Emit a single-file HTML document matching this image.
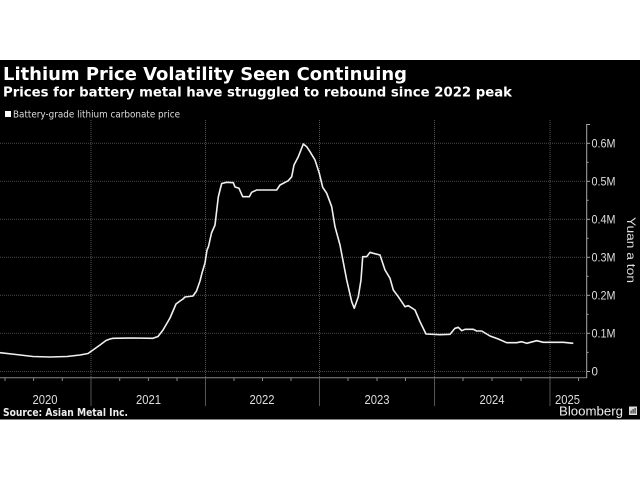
<!DOCTYPE html>
<html><head><meta charset="utf-8"><style>
html,body{margin:0;padding:0;background:#fff;}
svg{display:block;}
</style></head><body>
<svg width="640" height="480" viewBox="0 0 640 480" xmlns="http://www.w3.org/2000/svg">
<rect x="0" y="0" width="640" height="480" fill="#fff"/>
<rect x="0" y="60" width="640" height="359.5" fill="#000"/>
<text x="3" y="80" font-family="DejaVu Sans, sans-serif" font-weight="bold" font-size="17.5" fill="#fff" textLength="404" lengthAdjust="spacingAndGlyphs">Lithium Price Volatility Seen Continuing</text>
<text x="3" y="96.5" font-family="DejaVu Sans, sans-serif" font-weight="bold" font-size="13.5" fill="#fff" textLength="509" lengthAdjust="spacingAndGlyphs">Prices for battery metal have struggled to rebound since 2022 peak</text>
<rect x="5" y="111" width="6" height="6" fill="#fff"/>
<text x="13" y="117.5" font-family="DejaVu Sans, sans-serif" font-size="10" fill="#ddd" textLength="167" lengthAdjust="spacingAndGlyphs">Battery-grade lithium carbonate price</text>
<g stroke="#4a4a4a" stroke-width="1" stroke-dasharray="1,1">
<line x1="0" y1="143.3" x2="586" y2="143.3"/>
<line x1="0" y1="181.3" x2="586" y2="181.3"/>
<line x1="0" y1="219.3" x2="586" y2="219.3"/>
<line x1="0" y1="257.3" x2="586" y2="257.3"/>
<line x1="0" y1="295.3" x2="586" y2="295.3"/>
<line x1="0" y1="333.3" x2="586" y2="333.3"/>
<line x1="0" y1="371.5" x2="586" y2="371.5"/>
</g>
<g stroke="#555" stroke-width="1">
<line x1="91" y1="120" x2="91" y2="406" stroke-dasharray="1,1"/>
<line x1="205.5" y1="120" x2="205.5" y2="406" stroke-dasharray="1,1"/>
<line x1="319.5" y1="120" x2="319.5" y2="406" stroke-dasharray="1,1"/>
<line x1="434.5" y1="120" x2="434.5" y2="406" stroke-dasharray="1,1"/>
<line x1="550" y1="120" x2="550" y2="406" stroke-dasharray="1,1"/>
<line x1="91" y1="378" x2="91" y2="406"/>
<line x1="205.5" y1="378" x2="205.5" y2="406"/>
<line x1="319.5" y1="378" x2="319.5" y2="406"/>
<line x1="434.5" y1="378" x2="434.5" y2="406"/>
<line x1="550" y1="378" x2="550" y2="406"/>
</g>
<line x1="0" y1="377.7" x2="587" y2="377.7" stroke="#888" stroke-width="1"/>
<g stroke="#888" stroke-width="1">
<line x1="5" y1="378" x2="5" y2="381"/>
<line x1="33.6" y1="378" x2="33.6" y2="381"/>
<line x1="62.3" y1="378" x2="62.3" y2="381"/>
<line x1="119.7" y1="378" x2="119.7" y2="381"/>
<line x1="148.4" y1="378" x2="148.4" y2="381"/>
<line x1="177" y1="378" x2="177" y2="381"/>
<line x1="234" y1="378" x2="234" y2="381"/>
<line x1="262.5" y1="378" x2="262.5" y2="381"/>
<line x1="291" y1="378" x2="291" y2="381"/>
<line x1="348" y1="378" x2="348" y2="381"/>
<line x1="377" y1="378" x2="377" y2="381"/>
<line x1="405.5" y1="378" x2="405.5" y2="381"/>
<line x1="463" y1="378" x2="463" y2="381"/>
<line x1="492" y1="378" x2="492" y2="381"/>
<line x1="521" y1="378" x2="521" y2="381"/>
<line x1="578.5" y1="378" x2="578.5" y2="381"/>
</g>
<line x1="586.7" y1="124" x2="586.7" y2="378" stroke="#aaa" stroke-width="1"/>
<g stroke="#aaa" stroke-width="1">
<line x1="586.7" y1="124.5" x2="590" y2="124.5"/>
<line x1="586.7" y1="143.3" x2="590" y2="143.3"/>
<line x1="586.7" y1="181.3" x2="590" y2="181.3"/>
<line x1="586.7" y1="219.3" x2="590" y2="219.3"/>
<line x1="586.7" y1="257.3" x2="590" y2="257.3"/>
<line x1="586.7" y1="295.3" x2="590" y2="295.3"/>
<line x1="586.7" y1="333.3" x2="590" y2="333.3"/>
<line x1="586.7" y1="371.5" x2="590" y2="371.5"/>
<line x1="586.7" y1="162.3" x2="588.5" y2="162.3"/>
<line x1="586.7" y1="200.3" x2="588.5" y2="200.3"/>
<line x1="586.7" y1="238.3" x2="588.5" y2="238.3"/>
<line x1="586.7" y1="276.3" x2="588.5" y2="276.3"/>
<line x1="586.7" y1="314.3" x2="588.5" y2="314.3"/>
<line x1="586.7" y1="352.4" x2="588.5" y2="352.4"/>
</g>
<g font-family="Liberation Sans, sans-serif" font-size="11.5" fill="#ddd">
<text x="591.5" y="147.5" textLength="24" lengthAdjust="spacingAndGlyphs">0.6M</text>
<text x="591.5" y="185.5" textLength="24" lengthAdjust="spacingAndGlyphs">0.5M</text>
<text x="591.5" y="223.5" textLength="24" lengthAdjust="spacingAndGlyphs">0.4M</text>
<text x="591.5" y="261.5" textLength="24" lengthAdjust="spacingAndGlyphs">0.3M</text>
<text x="591.5" y="299.5" textLength="24" lengthAdjust="spacingAndGlyphs">0.2M</text>
<text x="591.5" y="337.5" textLength="24" lengthAdjust="spacingAndGlyphs">0.1M</text>
<text x="591.5" y="375.5">0</text>
</g>
<text transform="translate(627,250) rotate(90)" text-anchor="middle" font-family="Liberation Sans, sans-serif" font-size="12" fill="#ddd" textLength="66" lengthAdjust="spacingAndGlyphs">Yuan a ton</text>
<g font-family="Liberation Sans, sans-serif" font-size="13" fill="#ddd" text-anchor="middle">
<text x="45" y="404" textLength="25" lengthAdjust="spacingAndGlyphs">2020</text>
<text x="148.5" y="404" textLength="25" lengthAdjust="spacingAndGlyphs">2021</text>
<text x="262" y="404" textLength="25" lengthAdjust="spacingAndGlyphs">2022</text>
<text x="377" y="404" textLength="25" lengthAdjust="spacingAndGlyphs">2023</text>
<text x="492" y="404" textLength="25" lengthAdjust="spacingAndGlyphs">2024</text>
<text x="567.5" y="404" textLength="25" lengthAdjust="spacingAndGlyphs">2025</text>
</g>
<polyline fill="none" stroke="#f0f0f0" stroke-width="1.6" stroke-linejoin="round" points="0,352.7 16,354.5 33,356.5 50,357 67,356.5 80,355 88,353.5 93,350 100,345 106,340.5 110,339 113,338.3 133,338 153,338.3 158,336.5 163,330 170,318 176,304 180,301 183,299 185,297 193,296 196.5,291 200,281 202,273 205,263 207,250 208.5,246.5 211.5,233 215,225 218.3,197 220,190 221.7,183.5 226.7,182.3 233.3,182.7 235,187 239,188.3 242.7,196.7 249.3,196.7 251.7,192.3 256.7,190 276.7,190 280,185 288.3,180.7 291.7,176.7 294,165 298.3,156.7 303.3,144 306.7,146.7 310,151.7 315,160 319.3,173.3 322.7,187.3 326.7,193.3 331.7,206.7 335,226.7 340,245 346.7,280 351.7,301.7 354.3,308.3 358.3,296.7 361,280 362.7,256.7 366.7,256.7 370,252.3 373.3,253.3 380,255 385,270 390,278.3 393.3,290 398.3,296.7 405,306.7 408.3,305.7 415,310 420,321.7 426,334 440,334.7 450,334.3 455,328.3 458.3,327.3 461.7,330.7 465,329.3 473.3,329.3 476.7,331 481.7,331 490,336 498.3,339 506.7,342.7 516.7,342.7 521.7,341.7 526.7,343.3 536.7,340.7 543.3,342.3 553.3,342.3 563.3,342.3 573.3,343.3"/>
<text x="3" y="416" font-family="DejaVu Sans, sans-serif" font-weight="bold" font-size="10.5" fill="#eee" textLength="125" lengthAdjust="spacingAndGlyphs">Source: Asian Metal Inc.</text>
<text x="559" y="415.5" font-family="Liberation Sans, sans-serif" font-size="12.5" fill="#eee" textLength="64" lengthAdjust="spacingAndGlyphs">Bloomberg</text>
<rect x="629" y="406.5" width="8" height="8.5" fill="#ddd"/>
<rect x="630.5" y="410.5" width="1.2" height="3" fill="#333"/>
<rect x="632.5" y="409" width="1.2" height="4.5" fill="#333"/>
<rect x="634.5" y="408" width="1.2" height="5.5" fill="#333"/>
</svg>
</body></html>
